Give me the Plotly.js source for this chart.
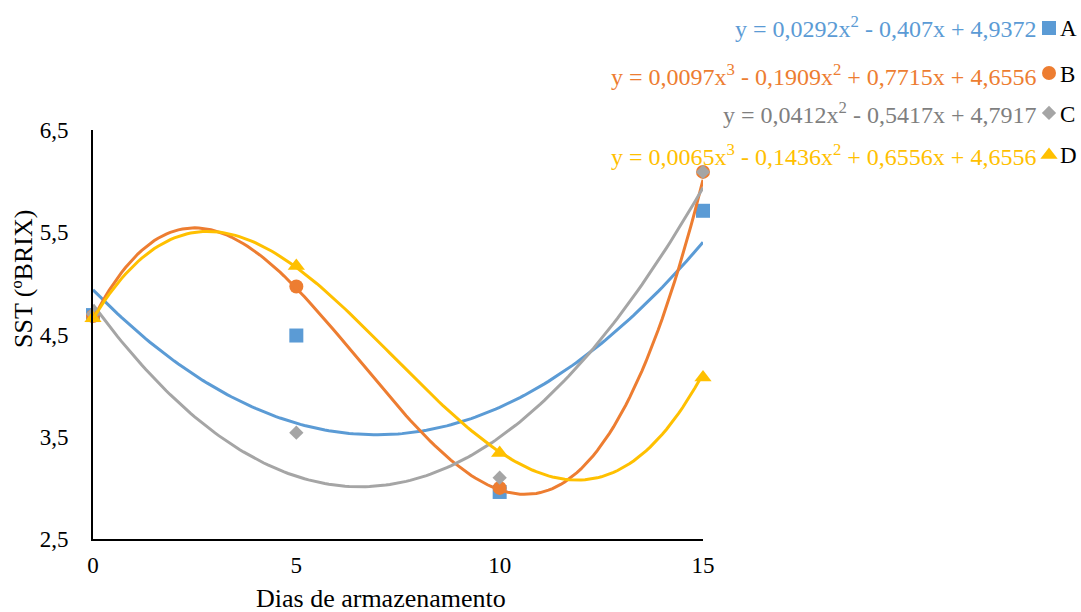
<!DOCTYPE html>
<html>
<head>
<meta charset="utf-8">
<script src="https://cdn.plot.ly/plotly-3.0.1.min.js"></script>
<style>html,body{margin:0;padding:0;background:#fff;}#chart{width:1081px;height:612px;}</style>
</head>
<body>
<div id="chart"></div>
<script>
// ---- data ----
const days = [0, 5, 10, 15];
const seriesNames = ['A', 'B', 'C', 'D'];
const valuesA = [4.69, 4.49, 2.96, 5.71];
const valuesB = [4.68, 4.97, 3.00, 6.09];
const valuesC = [4.70, 3.54, 3.10, 6.09];
const valuesD = [4.66, 5.17, 3.34, 4.08];
// trendline coefficients (constant, x, x^2, x^3) as printed on the chart
const coefA = [4.9372, -0.407, 0.0292];
const coefB = [4.6556, 0.7715, -0.1909, 0.0097];
const coefC = [4.7917, -0.5417, 0.0412];
const coefD = [4.6556, 0.6556, -0.1436, 0.0065];
const equationA = 'y = 0,0292x<sup>2</sup> - 0,407x + 4,9372';
const equationB = 'y = 0,0097x<sup>3</sup> - 0,1909x<sup>2</sup> + 0,7715x + 4,6556';
const equationC = 'y = 0,0412x<sup>2</sup> - 0,5417x + 4,7917';
const equationD = 'y = 0,0065x<sup>3</sup> - 0,1436x<sup>2</sup> + 0,6556x + 4,6556';
const yTickVals = [2.5, 3.5, 4.5, 5.5, 6.5];
const xTickVals = [0, 5, 10, 15];
const xTitle = 'Dias de armazenamento';
const yTitle = 'SST (ºBRIX)';

// ---- styling ----
const colors = ['#5B9BD5', '#ED7D31', '#A5A5A5', '#FFC000'];
const eqColors = ['#5B9BD5', '#ED7D31', '#7F7F7F', '#FFC000'];
const symbols = ['square', 'circle', 'diamond', 'triangle-up'];
const sizes = [14, 14, 11, 15];
const FONT = '"Liberation Serif", "Times New Roman", serif';

const W = 1081, H = 612;
const M = {l: 93, r: 378, t: 130, b: 73, autoexpand: false};
const pw = W - M.l - M.r, ph = H - M.t - M.b;
const px = x => (x - M.l) / pw;
const py = y => (H - M.b - y) / ph;

const values = [valuesA, valuesB, valuesC, valuesD];
const coefs = [coefA, coefB, coefC, coefD];
const equations = [equationA, equationB, equationC, equationD];

const poly = (c, x) => c.reduce((s, k, i) => s + k * Math.pow(x, i), 0);
const xs = [];
for (let i = 0; i <= 150; i++) xs.push(i / 10);

const traces = [];
values.forEach((v, i) => {
  traces.push({
    x: days, y: v, type: 'scatter', mode: 'markers', name: '',
    marker: {symbol: symbols[i], size: sizes[i], color: colors[i], line: {width: 0}},
    cliponaxis: false, showlegend: true,
    legend: i === 0 ? 'legend' : 'legend' + (i + 1),
    hoverinfo: 'x+y'
  });
});
coefs.forEach((c, i) => {
  traces.push({
    x: xs, y: xs.map(x => poly(c, x)), type: 'scatter', mode: 'lines',
    line: {color: colors[i], width: 3},
    cliponaxis: false, showlegend: false, hoverinfo: 'skip'
  });
});

const rowY = [28, 73, 113, 155];
const eqY = [27, 75, 113, 155];
const legendBase = {
  xanchor: 'left', yanchor: 'middle', bgcolor: 'rgba(0,0,0,0)',
  font: {family: FONT, size: 23, color: '#000'}, itemwidth: 30
};
const layout = {
  width: W, height: H, margin: M,
  paper_bgcolor: '#fff', plot_bgcolor: '#fff',
  separators: ',.',
  font: {family: FONT, size: 23, color: '#000'},
  xaxis: {
    range: [0, 15], tickvals: xTickVals, showgrid: false, zeroline: false,
    showline: true, linecolor: '#000', linewidth: 2, ticks: '', ticklabelstandoff: 4,
    tickfont: {family: FONT, size: 23, color: '#000'}, fixedrange: true
  },
  yaxis: {
    range: [2.5, 6.5], tickvals: yTickVals, tickformat: '.1f', showgrid: false, zeroline: false,
    showline: true, linecolor: '#000', linewidth: 2, ticks: '', ticklabelstandoff: 18,
    tickfont: {family: FONT, size: 23, color: '#000'}, fixedrange: true
  },
  annotations: [
    {text: xTitle, xref: 'paper', yref: 'paper', x: px(381), y: py(598), xanchor: 'center', yanchor: 'middle',
     showarrow: false, font: {family: FONT, size: 26, color: '#000'}},
    {text: yTitle, xref: 'paper', yref: 'paper', x: px(23), y: py(279), xanchor: 'center', yanchor: 'middle',
     textangle: -90, showarrow: false, font: {family: FONT, size: 26, color: '#000'}}
  ].concat(equations.map((t, i) => ({
    text: t, xref: 'paper', yref: 'paper', x: px(1038), y: py(eqY[i]), xanchor: 'right', yanchor: 'middle',
    showarrow: false, font: {family: FONT, size: 24, color: eqColors[i]}
  }))).concat(seriesNames.map((t, i) => ({
    text: t, xref: 'paper', yref: 'paper', x: px(1058), y: py(rowY[i] + 1), xanchor: 'left', yanchor: 'middle',
    showarrow: false, font: {family: FONT, size: 23, color: '#000'}
  }))),
  showlegend: true
};
rowY.forEach((y, i) => {
  const key = i === 0 ? 'legend' : 'legend' + (i + 1);
  layout[key] = Object.assign({}, legendBase, {x: px(1029), y: py(y)});
});

Plotly.newPlot('chart', traces, layout, {displayModeBar: false, staticPlot: true});
</script>
</body>
</html>
